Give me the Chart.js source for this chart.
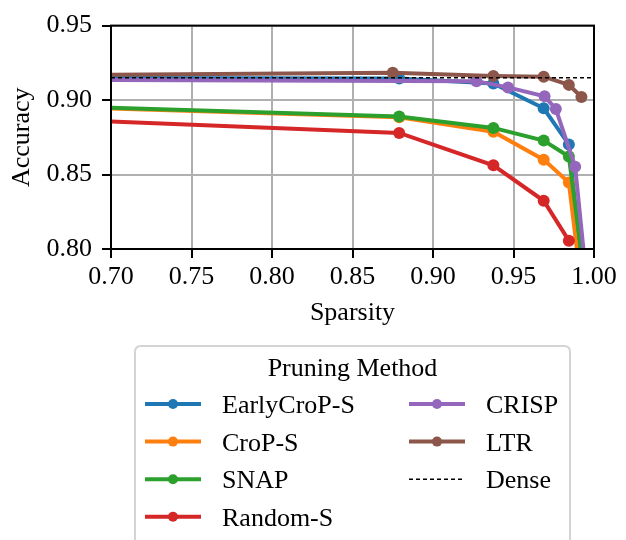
<!DOCTYPE html>
<html>
<head>
<meta charset="utf-8">
<script src="https://cdn.jsdelivr.net/npm/chart.js@4.4.0/dist/chart.umd.min.js"></script>
<style>
  body { margin: 0; background: #fff; }
  #wrap { width: 626px; height: 540px; }
</style>
</head>
<body>
<div id="wrap"><canvas id="myChart" width="626" height="540"></canvas></div>
<script>
// tick labels
var xTicks = [0.70, 0.75, 0.80, 0.85, 0.90, 0.95, 1.00];
var yTicks = [0.80, 0.85, 0.90, 0.95];

// series (sparsity, accuracy)
var labels = ['EarlyCroP-S', 'CroP-S', 'SNAP', 'Random-S', 'CRISP', 'LTR', 'Dense'];

var earlyX = [0.5, 0.879, 0.9375, 0.96875, 0.984375, 0.9961];
var earlyY = [0.9152, 0.9145, 0.9111, 0.8945, 0.8702, 0.750];

var cropX = [0.5, 0.879, 0.9375, 0.96875, 0.984375, 0.9961];
var cropY = [0.9010, 0.8885, 0.8787, 0.8600, 0.8447, 0.740];

var snapX = [0.5, 0.879, 0.9375, 0.96875, 0.984375, 0.9961];
var snapY = [0.9016, 0.8889, 0.8813, 0.8728, 0.8621, 0.765];

var randomX = [0.5, 0.879, 0.9375, 0.96875, 0.984375];
var randomY = [0.8942, 0.8779, 0.8562, 0.8324, 0.8056];

var crispX = [0.5, 0.927, 0.9466, 0.9693, 0.9763, 0.9883, 0.9961];
var crispY = [0.9140, 0.9127, 0.9085, 0.9025, 0.8940, 0.8553, 0.771];

var ltrX = [0.5, 0.875, 0.9375, 0.96875, 0.984375, 0.9922];
var ltrY = [0.9155, 0.9183, 0.9162, 0.9157, 0.9102, 0.9021];

var denseX = [0.5, 1.0];
var denseY = [0.915, 0.915];

var colors = ['#1f77b4', '#ff7f0e', '#2ca02c', '#d62728', '#9467bd', '#8c564b'];

function pts(xs, ys) {
    var out = [];
    for (var i = 0; i < xs.length; i++) {
        out.push({x: xs[i], y: ys[i]});
    }
    return out;
}

var series = [
    pts(earlyX, earlyY), pts(cropX, cropY), pts(snapX, snapY),
    pts(randomX, randomY), pts(crispX, crispY), pts(ltrX, ltrY)
];

var datasets = [];
for (var i = 0; i < series.length; i++) {
    datasets.push({
        label: labels[i],
        data: series[i],
        borderColor: colors[i],
        backgroundColor: colors[i],
        borderWidth: 4,
        pointRadius: 6,
        pointBorderWidth: 0,
        pointHoverRadius: 6,
        clip: 0,
        order: 20 - i
    });
}
datasets.push({
    label: 'Dense',
    data: pts(denseX, denseY),
    borderColor: '#000',
    borderWidth: 1.5,
    borderDash: [4, 3],
    pointRadius: 0,
    clip: 0,
    order: 1
});

var font = 'Liberation Serif';
Chart.defaults.font.family = font;
Chart.defaults.font.size = 26;
Chart.defaults.color = '#000';

var framePlugin = {
    id: 'frame',
    afterDatasetsDraw: function (chart) {
        var ctx = chart.ctx, a = chart.chartArea;
        ctx.save();
        ctx.strokeStyle = '#000';
        ctx.lineWidth = 2;
        ctx.strokeRect(a.left, a.top, a.right - a.left, a.bottom - a.top);
        ctx.restore();
    }
};

var legendPlugin = {
    id: 'boxLegend',
    afterDraw: function (chart) {
        var ctx = chart.ctx;
        ctx.save();
        // box
        var bx = 135, by = 346, bw = 435, bh = 230, r = 6;
        ctx.beginPath();
        ctx.moveTo(bx + r, by);
        ctx.lineTo(bx + bw - r, by);
        ctx.quadraticCurveTo(bx + bw, by, bx + bw, by + r);
        ctx.lineTo(bx + bw, by + bh);
        ctx.lineTo(bx, by + bh);
        ctx.lineTo(bx, by + r);
        ctx.quadraticCurveTo(bx, by, bx + r, by);
        ctx.fillStyle = '#fff';
        ctx.fill();
        ctx.strokeStyle = '#d4d4d4';
        ctx.lineWidth = 2;
        ctx.stroke();

        ctx.fillStyle = '#000';
        ctx.font = '26px "' + font + '"';
        ctx.textBaseline = 'alphabetic';
        ctx.textAlign = 'center';
        ctx.fillText('Pruning Method', 352.5, 376);

        var colStart = [145, 409], colEnd = [201, 465], colText = [222, 486];
        var ds = chart.data.datasets;
        for (var i = 0; i < ds.length; i++) {
            var col = i < 4 ? 0 : 1;
            var row = i < 4 ? i : i - 4;
            var y = 404 + row * 37.6;
            ctx.beginPath();
            ctx.moveTo(colStart[col], y);
            ctx.lineTo(colEnd[col], y);
            ctx.strokeStyle = ds[i].borderColor;
            ctx.lineWidth = ds[i].borderWidth;
            ctx.setLineDash(ds[i].borderDash || []);
            ctx.stroke();
            ctx.setLineDash([]);
            if (ds[i].pointRadius > 0) {
                ctx.beginPath();
                ctx.arc((colStart[col] + colEnd[col]) / 2, y, 5, 0, Math.PI * 2);
                ctx.fillStyle = ds[i].backgroundColor;
                ctx.fill();
            }
            ctx.fillStyle = '#000';
            ctx.textAlign = 'left';
            ctx.fillText(ds[i].label, colText[col], y + 9);
        }
        ctx.restore();
    }
};

var ctx = document.getElementById('myChart');
var chart = new Chart(ctx, {
    type: 'line',
    data: { datasets: datasets },
    options: {
        responsive: false,
        animation: false,
        devicePixelRatio: 1,
        layout: { padding: { top: 14, right: 32, bottom: 207, left: 3 } },
        plugins: { legend: { display: false }, tooltip: { enabled: false } },
        scales: {
            x: {
                type: 'linear',
                min: 0.70,
                max: 1.00,
                afterBuildTicks: function (scale) {
                    scale.ticks = xTicks.map(function (v) { return {value: v}; });
                },
                afterFit: function (scale) { scale.height = 84; },
                ticks: {
                    padding: 4,
                    maxRotation: 0,
                    callback: function (v) { return v.toFixed(2); }
                },
                grid: { color: '#b0b0b0', lineWidth: 2, tickColor: '#000', tickWidth: 2, tickLength: 9 },
                border: { display: false },
                title: { display: true, text: 'Sparsity', padding: { top: 4, bottom: 4 } }
            },
            y: {
                type: 'linear',
                min: 0.80,
                max: 0.95,
                afterBuildTicks: function (scale) {
                    scale.ticks = yTicks.map(function (v) { return {value: v}; });
                },
                afterFit: function (scale) { scale.width = 108; },
                ticks: {
                    padding: 10,
                    callback: function (v) { return v.toFixed(2); }
                },
                grid: { color: '#b0b0b0', lineWidth: 2, tickColor: '#000', tickWidth: 2, tickLength: 9 },
                border: { display: false },
                title: { display: true, text: 'Accuracy', padding: { top: 4, bottom: 4 } }
            }
        }
    },
    plugins: [framePlugin, legendPlugin]
});
</script>
</body>
</html>
